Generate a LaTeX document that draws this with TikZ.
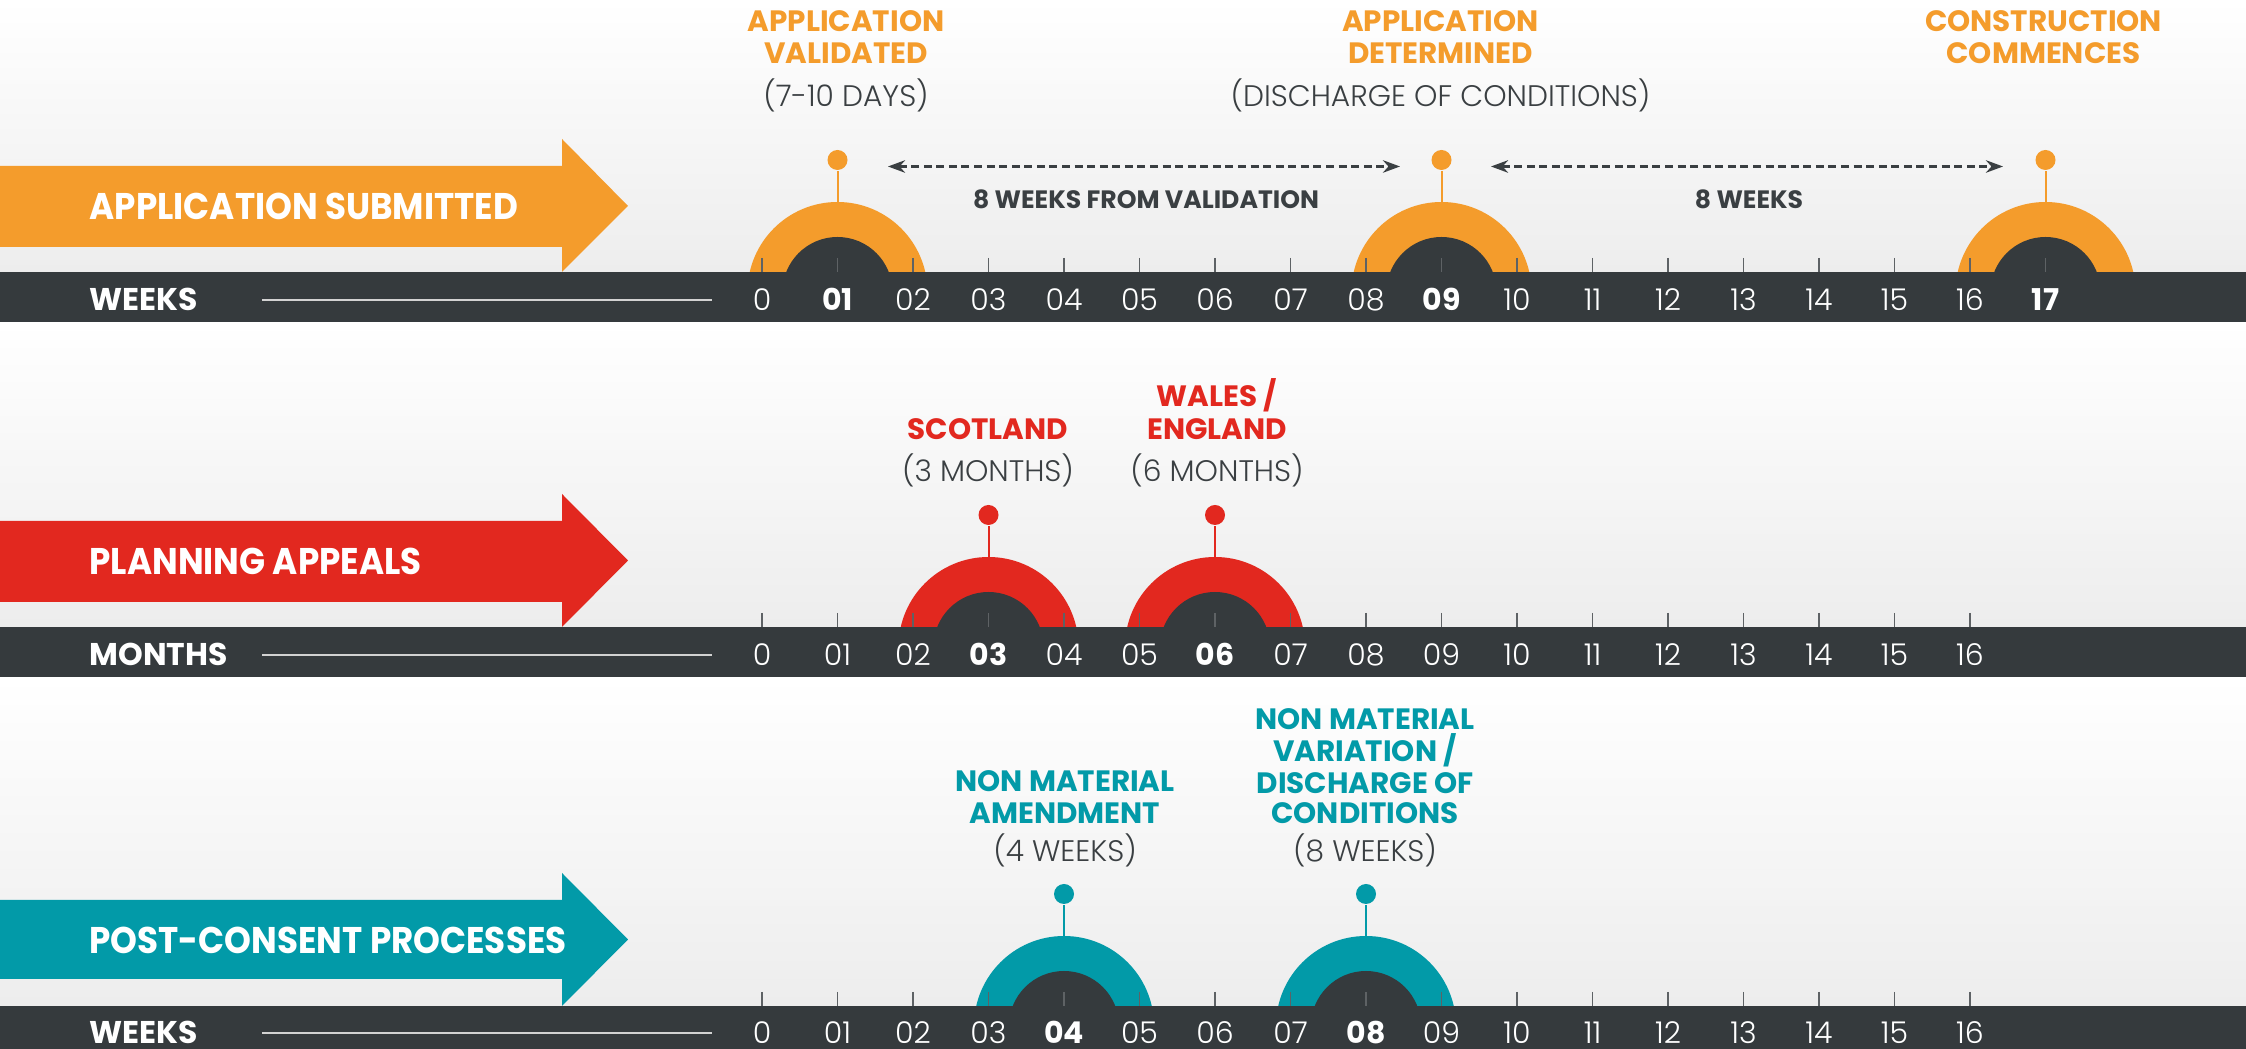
\documentclass[tikz,border=0pt]{standalone}
\usepackage{fontspec}
\newfontfamily\pbold{Poppins Bold}
\newfontfamily\pboldn{Poppins Bold}[FakeStretch=0.92]
\newfontfamily\plight{Poppins Light}
\usetikzlibrary{arrows.meta}
\definecolor{orng}{HTML}{F49C2C}
\definecolor{redc}{HTML}{E2281F}
\definecolor{tealc}{HTML}{029AA8}
\definecolor{barc}{HTML}{353A3D}
\definecolor{txtc}{HTML}{3A3F42}
\definecolor{bgc}{HTML}{EDEDED}
\definecolor{linec}{HTML}{D2D2D2}
\definecolor{tickc}{HTML}{5E6265}
\newcommand\twod[1]{\ifnum#1=0 0\else\ifnum#1<10 0#1\else#1\fi\fi}
\newcommand\mydome[4]{%
  \pgfmathsetmacro\dx{762+75.5*#1}%
  \begin{scope}
    \clip (0,#2-200) rectangle (2246,#2);
    \fill[#3] (\dx,#2+20) circle[radius=90];
    \fill[barc] (\dx,#2+20) circle[radius=55];
  \end{scope}
  \coordinate (#4top) at (\dx,#2-70);
}
\newcommand\mypin[4]{%
  \pgfmathsetmacro\dx{762+75.5*#1}%
  \node[mypindot, fill=#3] (#4pin) at (\dx,#2-112) {};
  \draw[#3, line width=0.7pt] (#4top) -- (#4pin);
}
\tikzset{
  myhdr/.style={font=\pbold\fontsize{10.3}{12}\selectfont, anchor=base, inner sep=0pt},
  mysub/.style={font=\plight\fontsize{10.4}{12}\selectfont, text=txtc, anchor=base, inner sep=0pt},
  myarrlbl/.style={font=\pboldn\fontsize{13}{15}\selectfont, text=white, anchor=base west, inner sep=0pt},
  mybarlbl/.style={font=\pbold\fontsize{11}{13}\selectfont, text=white, anchor=base west, inner sep=0pt},
  mynum/.style={font=\plight\fontsize{10.5}{12}\selectfont, text=white, anchor=base, inner sep=0pt},
  mynumb/.style={font=\pbold\fontsize{10.5}{12}\selectfont, text=white, anchor=base, inner sep=0pt},
  myspan/.style={font=\pbold\fontsize{8.8}{10}\selectfont, text=txtc, anchor=base, inner sep=0pt},
  mypindot/.style={circle, inner sep=0pt, minimum size=7pt},
  mytickln/.style={tickc, line width=0.5pt},
  mygap/.style={txtc, line width=0.8pt, dash pattern=on 2.8pt off 1.6pt,
    {Stealth[length=6pt,width=4.4pt]}-{Stealth[length=6pt,width=4.4pt]}},
  myrule/.style={linec, line width=0.7pt},
}
\begin{document}
\begin{tikzpicture}[x=0.35pt,y=-0.35pt]
\useasboundingbox (0,0) rectangle (2246,1049);
% backgrounds
\fill[white] (0,0) rectangle (2246,1049);
\shade[top color=white, bottom color=bgc] (0,0) rectangle (2246,272);
\shade[top color=white, bottom color=bgc] (0,322) rectangle (2246,627);
\shade[top color=white, bottom color=bgc] (0,677) rectangle (2246,1006);

% ---------------- band 1 (T=272)
\fill[orng] (0,166) -- (562,166) -- (562,139) -- (628,206) -- (562,272) -- (562,247) -- (0,247) -- cycle;
\mydome{1}{272}{orng}{da}
\mydome{9}{272}{orng}{db}
\mydome{17}{272}{orng}{dc}
\foreach \i in {0,...,17} {\draw[mytickln] ({762+75.5*\i},258) -- ({762+75.5*\i},272);}
\fill[barc] (0,272) rectangle (2246,322);
\mypin{1}{272}{orng}{da}
\mypin{9}{272}{orng}{db}
\mypin{17}{272}{orng}{dc}
\node[myarrlbl] (t1) at (89,220) {APPLICATION SUBMITTED};
\node[mybarlbl] (w1) at (89,311) {WEEKS};
\coordinate (r1a) at (262,300);
\coordinate (r1b) at (712,300);
\draw[myrule] (r1a) -- (r1b);
\foreach \i in {0,2,3,4,5,6,7,8,10,11,12,13,14,15,16} {\node[mynum] (na\i) at ({762+75.5*\i},311) {\twod{\i}};}
\foreach \i in {1,9,17} {\node[mynumb] (na\i) at ({762+75.5*\i},311) {\twod{\i}};}
\node[myhdr, text=orng] (la1) at (846,31.8) {APPLICATION};
\node[myhdr, text=orng] (la2) at (846,63.7) {VALIDATED};
\node[mysub] (la3) at (846,106.5) {(7-10 DAYS)};
\node[myhdr, text=orng] (lb1) at (1440.5,31.8) {APPLICATION};
\node[myhdr, text=orng] (lb2) at (1440.5,63.7) {DETERMINED};
\node[mysub] (lb3) at (1440.5,106.5) {(DISCHARGE OF CONDITIONS)};
\node[myhdr, text=orng] (lc1) at (2043.5,31.8) {CONSTRUCTION};
\node[myhdr, text=orng] (lc2) at (2043.5,63.7) {COMMENCES};
\coordinate (g1a) at (888,166.5);
\coordinate (g1b) at (1400,166.5);
\coordinate (g2a) at (1491,166.5);
\coordinate (g2b) at (2003,166.5);
\draw[mygap] (g1a) -- (g1b);
\draw[mygap] (g2a) -- (g2b);
\node[myspan] (s1) at (1146,208.4) {8 WEEKS FROM VALIDATION};
\node[myspan] (s2) at (1749,208.4) {8 WEEKS};

% ---------------- band 2 (T=627)
\fill[redc] (0,521) -- (562,521) -- (562,494) -- (628,560.5) -- (562,627) -- (562,602) -- (0,602) -- cycle;
\mydome{3}{627}{redc}{ea}
\mydome{6}{627}{redc}{eb}
\foreach \i in {0,...,16} {\draw[mytickln] ({762+75.5*\i},613) -- ({762+75.5*\i},627);}
\fill[barc] (0,627) rectangle (2246,677);
\mypin{3}{627}{redc}{ea}
\mypin{6}{627}{redc}{eb}
\node[myarrlbl] (t2) at (89,575) {PLANNING APPEALS};
\node[mybarlbl] (w2) at (89,666) {MONTHS};
\coordinate (r2a) at (262,655);
\coordinate (r2b) at (712,655);
\draw[myrule] (r2a) -- (r2b);
\foreach \i in {0,1,2,4,5,7,8,9,10,11,12,13,14,15,16} {\node[mynum] (nb\i) at ({762+75.5*\i},666) {\twod{\i}};}
\foreach \i in {3,6} {\node[mynumb] (nb\i) at ({762+75.5*\i},666) {\twod{\i}};}
\node[myhdr, text=redc] (ma1) at (988,440) {SCOTLAND};
\node[mysub] (ma2) at (988,481.7) {(3 MONTHS)};
\node[myhdr, text=redc] (mb1) at (1217,406.7) {WALES /};
\node[myhdr, text=redc] (mb2) at (1217,440) {ENGLAND};
\node[mysub] (mb3) at (1217,481.7) {(6 MONTHS)};

% ---------------- band 3 (T=1006)
\fill[tealc] (0,900) -- (562,900) -- (562,873) -- (628,939.5) -- (562,1006) -- (562,979) -- (0,979) -- cycle;
\mydome{4}{1006}{tealc}{fa}
\mydome{8}{1006}{tealc}{fb}
\foreach \i in {0,...,16} {\draw[mytickln] ({762+75.5*\i},992) -- ({762+75.5*\i},1006);}
\fill[barc] (0,1006) rectangle (2246,1056);
\mypin{4}{1006}{tealc}{fa}
\mypin{8}{1006}{tealc}{fb}
\node[myarrlbl] (t3) at (89,954) {POST-CONSENT PROCESSES};
\node[mybarlbl] (w3) at (89,1044) {WEEKS};
\coordinate (r3a) at (262,1033);
\coordinate (r3b) at (712,1033);
\draw[myrule] (r3a) -- (r3b);
\foreach \i in {0,1,2,3,5,6,7,9,10,11,12,13,14,15,16} {\node[mynum] (nc\i) at ({762+75.5*\i},1044) {\twod{\i}};}
\foreach \i in {4,8} {\node[mynumb] (nc\i) at ({762+75.5*\i},1044) {\twod{\i}};}
\node[myhdr, text=tealc] (pa1) at (1065,791.7) {NON MATERIAL};
\node[myhdr, text=tealc] (pa2) at (1065,824) {AMENDMENT};
\node[mysub] (pa3) at (1065,861.7) {(4 WEEKS)};
\node[myhdr, text=tealc] (pb1) at (1365,730) {NON MATERIAL};
\node[myhdr, text=tealc] (pb2) at (1365,761.7) {VARIATION /};
\node[myhdr, text=tealc] (pb3) at (1365,793.3) {DISCHARGE OF};
\node[myhdr, text=tealc] (pb4) at (1365,824) {CONDITIONS};
\node[mysub] (pb5) at (1365,861.7) {(8 WEEKS)};
\end{tikzpicture}
\end{document}
